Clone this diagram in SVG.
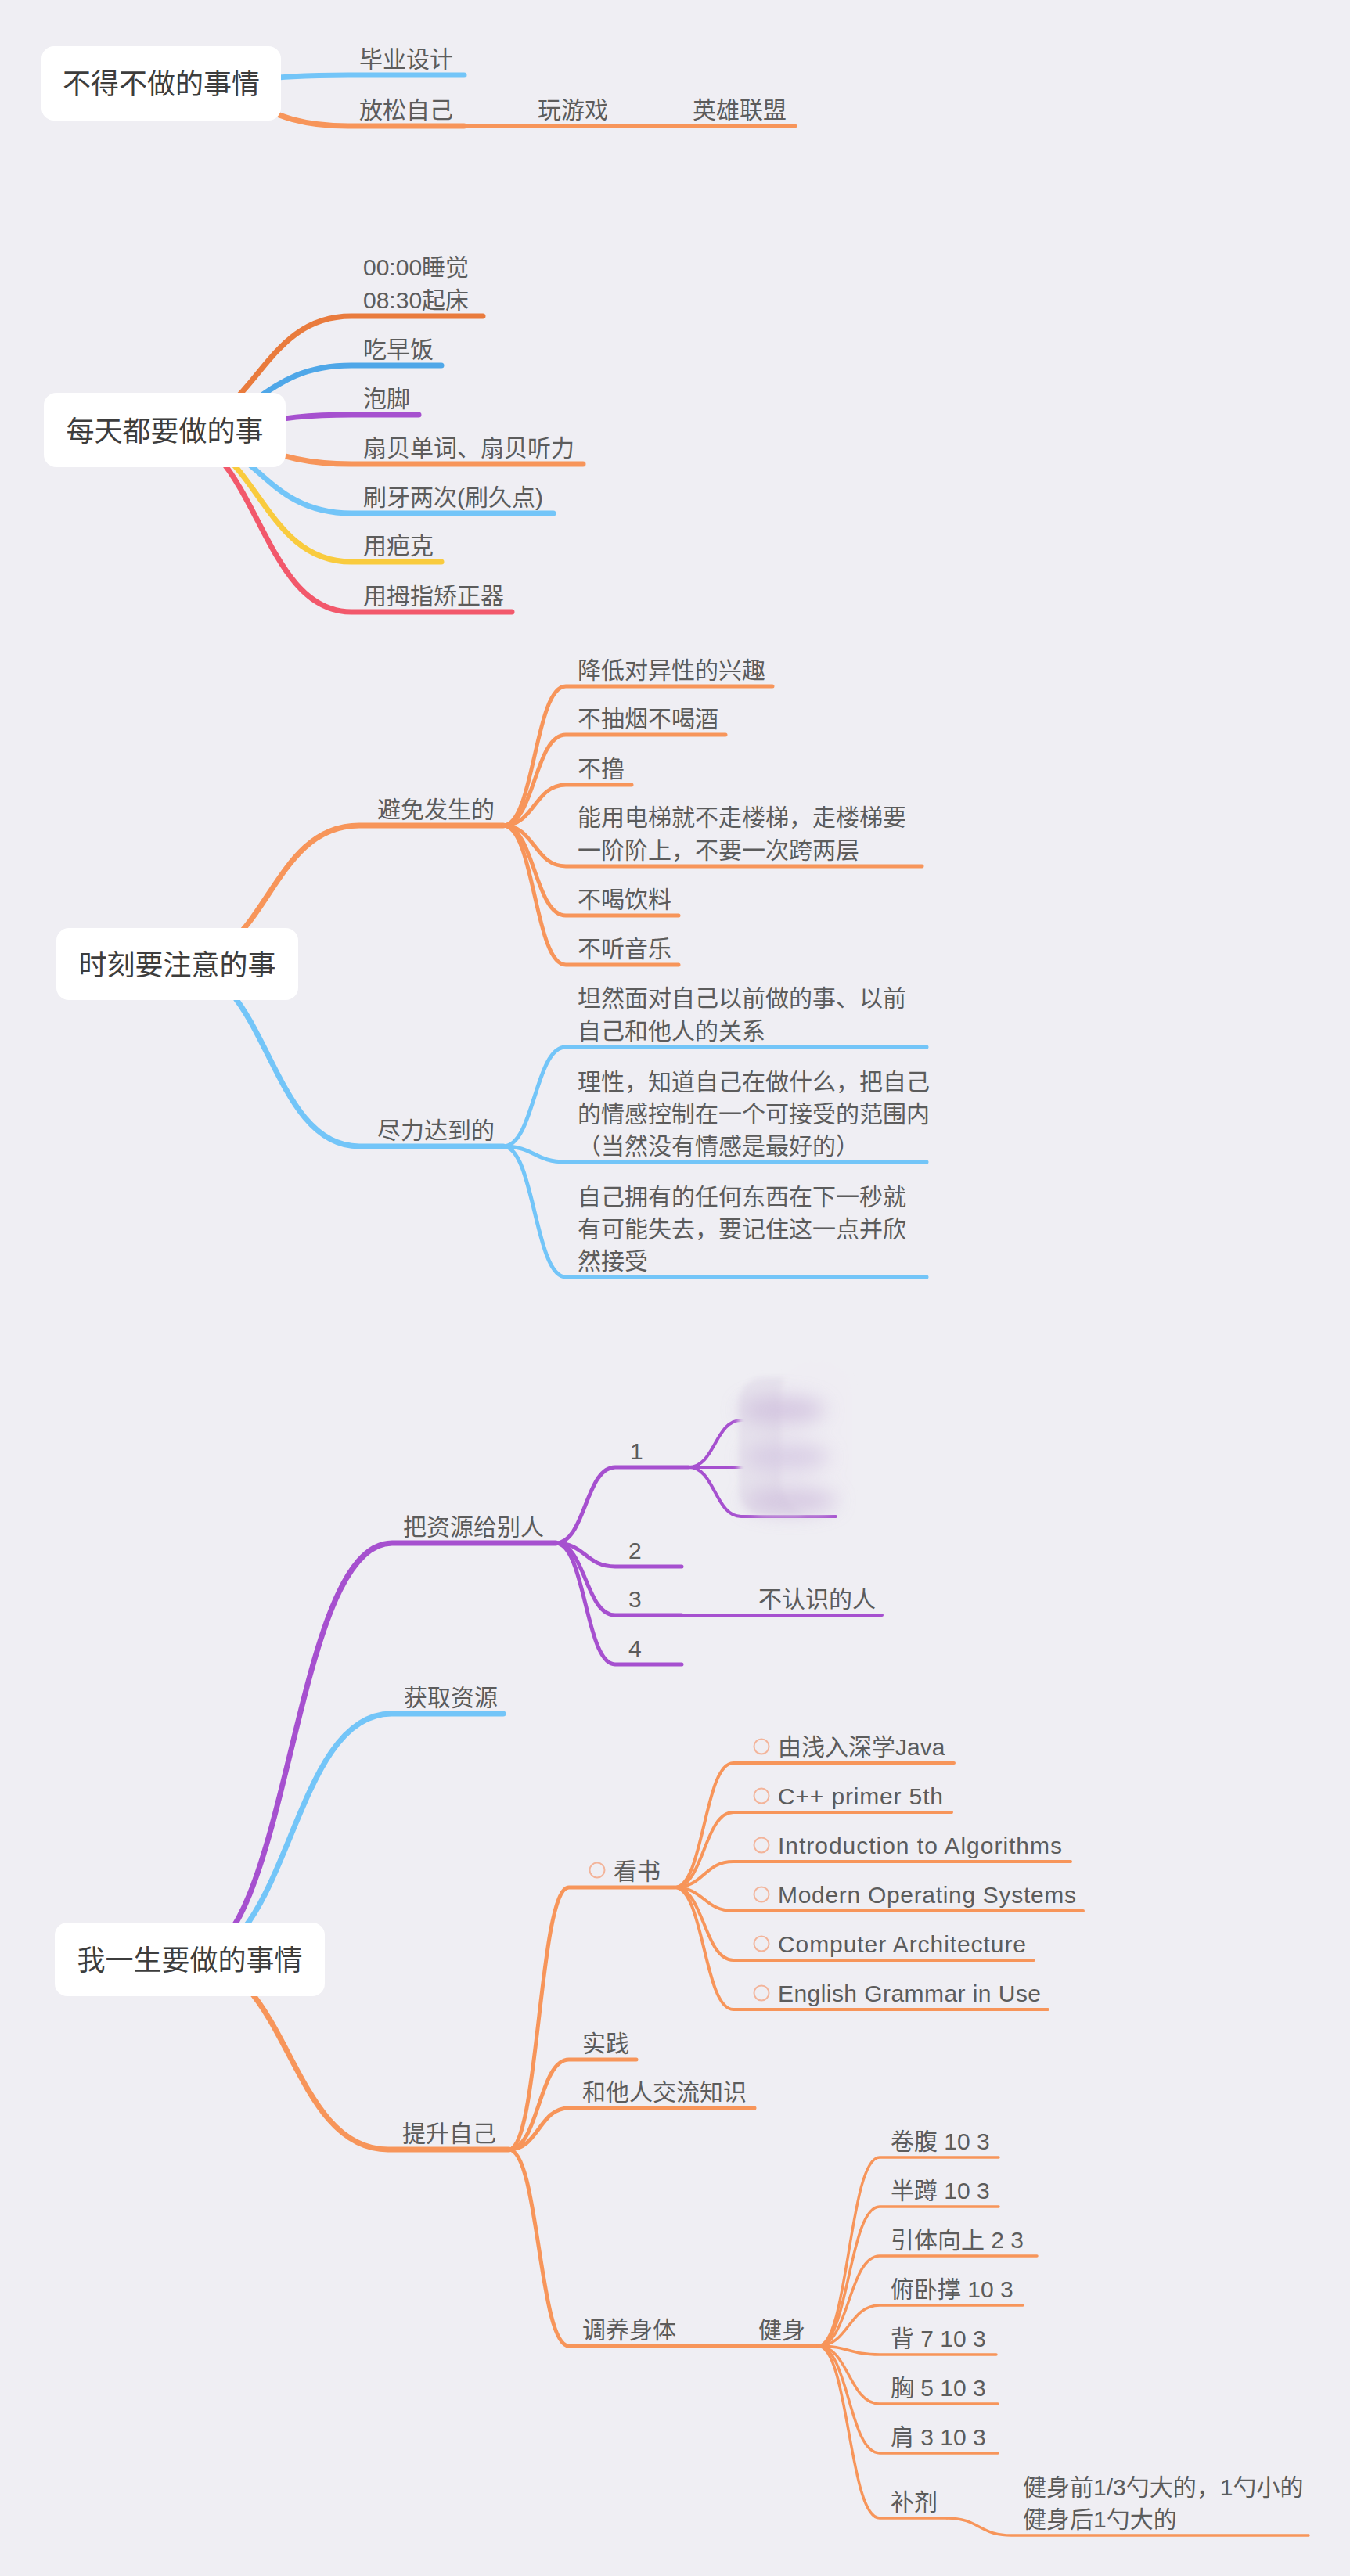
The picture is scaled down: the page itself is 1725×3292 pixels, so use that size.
<svg xmlns="http://www.w3.org/2000/svg" width="1725" height="3292" viewBox="0 0 1725 3292">
<style>
.rt{font-family:"Liberation Sans","Noto Sans CJK SC",sans-serif;font-size:36px;fill:#3d3d3d;text-anchor:middle}
.t{font-family:"Liberation Sans","Noto Sans CJK SC",sans-serif;font-size:30px;fill:#5c5c5c}
.box{fill:#ffffff}
.c path{fill:none;stroke-linecap:round;stroke-linejoin:round}
.l1{stroke-width:7}
.l2{stroke-width:5}
.l3{stroke-width:4}
.l4{stroke-width:3.5}
.or{stroke:#F7955A}
.bl{stroke:#73C5F8}
.pu{stroke:#A650CF}
.do{stroke:#E97B3D}
.db{stroke:#4FA7E8}
.ye{stroke:#F9CB3E}
.re{stroke:#F2586B}
.ic{fill:none;stroke:#F3B49A;stroke-width:2}
</style>
<defs>
<filter id="soft" x="-20%" y="-20%" width="140%" height="140%"><feGaussianBlur stdDeviation="3.5"/></filter>
<filter id="soft2" x="-50%" y="-150%" width="200%" height="400%"><feGaussianBlur stdDeviation="13"/></filter>
</defs>
<rect x="0" y="0" width="1725" height="3292" fill="#EFEEF3"/>

<g id="connectors" class="c">
<!-- Section 1 -->
<path class="l1 bl" d="M206,107 C325.5,107 325.5,96 445,96 L593,96"/>
<path class="l1 or" d="M206,107 C325.5,107 325.5,161 445,161 L593,161"/>
<path class="l2 or" d="M593,161 L789,161"/>
<path class="l3 or" d="M789,161 L1017,161"/>
<!-- Section 2 -->
<path class="l1 do" d="M210,550 C329.5,550 329.5,404 449,404 L617,404"/>
<path class="l1 db" d="M210,550 C329.5,550 329.5,467 449,467 L564,467"/>
<path class="l1 pu" d="M210,550 C329.5,550 329.5,530 449,530 L535,530"/>
<path class="l1 or" d="M210,550 C329.5,550 329.5,593 449,593 L745,593"/>
<path class="l1 bl" d="M210,550 C329.5,550 329.5,656 449,656 L707,656"/>
<path class="l1 ye" d="M210,550 C329.5,550 329.5,718 449,718 L564,718"/>
<path class="l1 re" d="M210,550 C329.5,550 329.5,782 449,782 L654,782"/>
<!-- Section 3 -->
<path class="l1 or" d="M226,1232 C342.5,1232 342.5,1055 459,1055 L643,1055"/>
<path class="l1 bl" d="M226,1232 C342.5,1232 342.5,1465 459,1465 L643,1465"/>
<path class="l2 or" d="M643,1055 C683,1055 683,877 723,877 L987,877"/>
<path class="l2 or" d="M643,1055 C683,1055 683,939 723,939 L927,939"/>
<path class="l2 or" d="M643,1055 C683,1055 683,1003 723,1003 L807,1003"/>
<path class="l2 or" d="M643,1055 C683,1055 683,1107 723,1107 L1178,1107"/>
<path class="l2 or" d="M643,1055 C683,1055 683,1170 723,1170 L867,1170"/>
<path class="l2 or" d="M643,1055 C683,1055 683,1233 723,1233 L867,1233"/>
<path class="l2 bl" d="M643,1465 C683,1465 683,1338 723,1338 L1184,1338"/>
<path class="l2 bl" d="M643,1465 C683,1465 683,1485 723,1485 L1184,1485"/>
<path class="l2 bl" d="M643,1465 C683,1465 683,1632 723,1632 L1184,1632"/>
<!-- Section 4 -->
<path class="l1 pu" d="M242,2504 C371.5,2504 371.5,1972 501,1972 L710,1972"/>
<path class="l1 bl" d="M242,2504 C371,2504 371,2190 500,2190 L643,2190"/>
<path class="l1 or" d="M242,2504 C369,2504 369,2747 496,2747 L650,2747"/>
<path class="l2 pu" d="M710,1972 C748,1972 748,1875 786,1875 L880,1875"/>
<path class="l2 pu" d="M710,1972 C748,1972 748,2002 786,2002 L871,2002"/>
<path class="l2 pu" d="M710,1972 C748,1972 748,2064 786,2064 L871,2064"/>
<path class="l2 pu" d="M710,1972 C748,1972 748,2127 786,2127 L871,2127"/>
<path class="l3 pu" d="M871,2064 L1127,2064"/>
<path class="l3 pu" d="M880,1875 C913.5,1875 913.5,1815 947,1815 L1068,1815"/>
<path class="l3 pu" d="M880,1875 L1068,1875"/>
<path class="l3 pu" d="M880,1875 C913.5,1875 913.5,1938 947,1938 L1068,1938"/>
<path class="l2 or" d="M650,2747 C688.5,2747 688.5,2412 727,2412 L862,2412"/>
<path class="l2 or" d="M650,2747 C688.5,2747 688.5,2632 727,2632 L813,2632"/>
<path class="l2 or" d="M650,2747 C688.5,2747 688.5,2694 727,2694 L964,2694"/>
<path class="l2 or" d="M650,2747 C688.5,2747 688.5,2998 727,2998 L873,2998"/>
<path class="l3 or" d="M862,2412 C899.5,2412 899.5,2253 937,2253 L1219,2253"/>
<path class="l3 or" d="M862,2412 C899.5,2412 899.5,2316 937,2316 L1216,2316"/>
<path class="l3 or" d="M862,2412 C899.5,2412 899.5,2379 937,2379 L1368,2379"/>
<path class="l3 or" d="M862,2412 C899.5,2412 899.5,2442 937,2442 L1384,2442"/>
<path class="l3 or" d="M862,2412 C899.5,2412 899.5,2505 937,2505 L1321,2505"/>
<path class="l3 or" d="M862,2412 C899.5,2412 899.5,2568 937,2568 L1339,2568"/>
<path class="l3 or" d="M873,2998 L1045,2998"/>
<path class="l4 or" d="M1045,2998 C1084.5,2998 1084.5,2757 1124,2757 L1276,2757"/>
<path class="l4 or" d="M1045,2998 C1084.5,2998 1084.5,2820 1124,2820 L1276,2820"/>
<path class="l4 or" d="M1045,2998 C1084.5,2998 1084.5,2883 1124,2883 L1325,2883"/>
<path class="l4 or" d="M1045,2998 C1084.5,2998 1084.5,2946 1124,2946 L1307,2946"/>
<path class="l4 or" d="M1045,2998 C1084.5,2998 1084.5,3009 1124,3009 L1273,3009"/>
<path class="l4 or" d="M1045,2998 C1084.5,2998 1084.5,3072 1124,3072 L1275,3072"/>
<path class="l4 or" d="M1045,2998 C1084.5,2998 1084.5,3135 1124,3135 L1275,3135"/>
<path class="l4 or" d="M1045,2998 C1084.5,2998 1084.5,3218 1124,3218 L1210,3218"/>
<path class="l4 or" d="M1210,3218 C1251,3218 1251,3240 1292,3240 L1672,3240"/>
</g>

<!-- Section 1 -->
<g id="root1"><rect class="box" x="53" y="59" width="306" height="95" rx="16"/><text class="rt" x="206" y="120">不得不做的事情</text></g>
<g id="n1-1"><text class="t" x="459" y="86">毕业设计</text></g>
<g id="n1-2"><text class="t" x="459" y="151">放松自己</text></g>
<g id="n1-2-1"><text class="t" x="687" y="151">玩游戏</text></g>
<g id="n1-2-1-1"><text class="t" x="885" y="151">英雄联盟</text></g>

<!-- Section 2 -->
<g id="root2"><rect class="box" x="56" y="502" width="309" height="95" rx="16"/><text class="rt" x="210.5" y="564">每天都要做的事</text></g>
<g id="n2-1"><text class="t" x="464" y="352">00:00睡觉</text><text class="t" x="464" y="394">08:30起床</text></g>
<g id="n2-2"><text class="t" x="464" y="457">吃早饭</text></g>
<g id="n2-3"><text class="t" x="464" y="520">泡脚</text></g>
<g id="n2-4"><text class="t" x="464" y="583">扇贝单词、扇贝听力</text></g>
<g id="n2-5"><text class="t" x="464" y="646">刷牙两次(刷久点)</text></g>
<g id="n2-6"><text class="t" x="464" y="708">用疤克</text></g>
<g id="n2-7"><text class="t" x="464" y="772">用拇指矫正器</text></g>

<!-- Section 3 -->
<g id="root3"><rect class="box" x="72" y="1186" width="309" height="92" rx="16"/><text class="rt" x="226.5" y="1246">时刻要注意的事</text></g>
<g id="n3-1"><text class="t" x="482" y="1045">避免发生的</text></g>
<g id="n3-1-1"><text class="t" x="738" y="867">降低对异性的兴趣</text></g>
<g id="n3-1-2"><text class="t" x="738" y="929">不抽烟不喝酒</text></g>
<g id="n3-1-3"><text class="t" x="738" y="993">不撸</text></g>
<g id="n3-1-4"><text class="t" x="738" y="1055">能用电梯就不走楼梯，走楼梯要</text><text class="t" x="738" y="1097">一阶阶上，不要一次跨两层</text></g>
<g id="n3-1-5"><text class="t" x="738" y="1160">不喝饮料</text></g>
<g id="n3-1-6"><text class="t" x="738" y="1223">不听音乐</text></g>
<g id="n3-2"><text class="t" x="482" y="1455">尽力达到的</text></g>
<g id="n3-2-1"><text class="t" x="738" y="1286">坦然面对自己以前做的事、以前</text><text class="t" x="738" y="1328">自己和他人的关系</text></g>
<g id="n3-2-2"><text class="t" x="738" y="1393">理性，知道自己在做什么，把自己</text><text class="t" x="738" y="1434">的情感控制在一个可接受的范围内</text><text class="t" x="738" y="1475">（当然没有情感是最好的）</text></g>
<g id="n3-2-3"><text class="t" x="738" y="1540">自己拥有的任何东西在下一秒就</text><text class="t" x="738" y="1581">有可能失去，要记住这一点并欣</text><text class="t" x="738" y="1622">然接受</text></g>

<!-- Section 4 -->
<g id="root4"><rect class="box" x="70" y="2457" width="345" height="94" rx="16"/><text class="rt" x="242.5" y="2518">我一生要做的事情</text></g>
<g id="n4-1"><text class="t" x="515" y="1962">把资源给别人</text></g>
<g id="n4-1-1"><text class="t" x="805" y="1865">1</text></g>
<g id="n4-1-1-hidden">
<g filter="url(#soft)">
<rect x="944" y="1760" width="106" height="176" rx="32" fill="#E6E2EC"/>
<rect x="998" y="1740" width="90" height="194" rx="40" fill="#EFEDF3"/>
</g>
<g filter="url(#soft2)" opacity="0.75">
<ellipse cx="1000" cy="1802" rx="55" ry="18" fill="#CDBCDC"/>
<ellipse cx="1005" cy="1862" rx="55" ry="18" fill="#D3C5E1"/>
<ellipse cx="1010" cy="1918" rx="60" ry="16" fill="#CDBCDC"/>
</g>
</g>
<g id="n4-1-2"><text class="t" x="803" y="1992">2</text></g>
<g id="n4-1-3"><text class="t" x="803" y="2054">3</text></g>
<g id="n4-1-3-1"><text class="t" x="969" y="2054">不认识的人</text></g>
<g id="n4-1-4"><text class="t" x="803" y="2117">4</text></g>
<g id="n4-2"><text class="t" x="516" y="2180">获取资源</text></g>
<g id="n4-3"><text class="t" x="514" y="2737">提升自己</text></g>
<g id="n4-3-1"><circle class="ic" cx="763" cy="2390" r="9.5"/><text class="t" x="784" y="2402">看书</text></g>
<g id="n4-3-1-1"><circle class="ic" cx="973" cy="2232" r="9.5"/><text class="t" x="994" y="2243">由浅入深学Java</text></g>
<g id="n4-3-1-2"><circle class="ic" cx="973" cy="2295" r="9.5"/><text class="t" x="994" y="2306" textLength="211" lengthAdjust="spacing">C++ primer 5th</text></g>
<g id="n4-3-1-3"><circle class="ic" cx="973" cy="2358" r="9.5"/><text class="t" x="994" y="2369" textLength="363" lengthAdjust="spacing">Introduction to Algorithms</text></g>
<g id="n4-3-1-4"><circle class="ic" cx="973" cy="2421" r="9.5"/><text class="t" x="994" y="2432" textLength="381" lengthAdjust="spacing">Modern Operating Systems</text></g>
<g id="n4-3-1-5"><circle class="ic" cx="973" cy="2484" r="9.5"/><text class="t" x="994" y="2495" textLength="317" lengthAdjust="spacing">Computer Architecture</text></g>
<g id="n4-3-1-6"><circle class="ic" cx="973" cy="2547" r="9.5"/><text class="t" x="994" y="2558" textLength="336" lengthAdjust="spacing">English Grammar in Use</text></g>
<g id="n4-3-2"><text class="t" x="744" y="2622">实践</text></g>
<g id="n4-3-3"><text class="t" x="744" y="2684">和他人交流知识</text></g>
<g id="n4-3-4"><text class="t" x="744" y="2988">调养身体</text></g>
<g id="n4-3-4-1"><text class="t" x="969" y="2988">健身</text></g>
<g id="f1"><text class="t" x="1138" y="2747">卷腹 10 3</text></g>
<g id="f2"><text class="t" x="1138" y="2810">半蹲 10 3</text></g>
<g id="f3"><text class="t" x="1138" y="2873">引体向上 2 3</text></g>
<g id="f4"><text class="t" x="1138" y="2936">俯卧撑 10 3</text></g>
<g id="f5"><text class="t" x="1138" y="2999">背 7 10 3</text></g>
<g id="f6"><text class="t" x="1138" y="3062">胸 5 10 3</text></g>
<g id="f7"><text class="t" x="1138" y="3125">肩 3 10 3</text></g>
<g id="f8"><text class="t" x="1138" y="3208">补剂</text></g>
<g id="f8-1"><text class="t" x="1307" y="3189">健身前1/3勺大的，1勺小的</text><text class="t" x="1307" y="3230">健身后1勺大的</text></g>
</svg>
